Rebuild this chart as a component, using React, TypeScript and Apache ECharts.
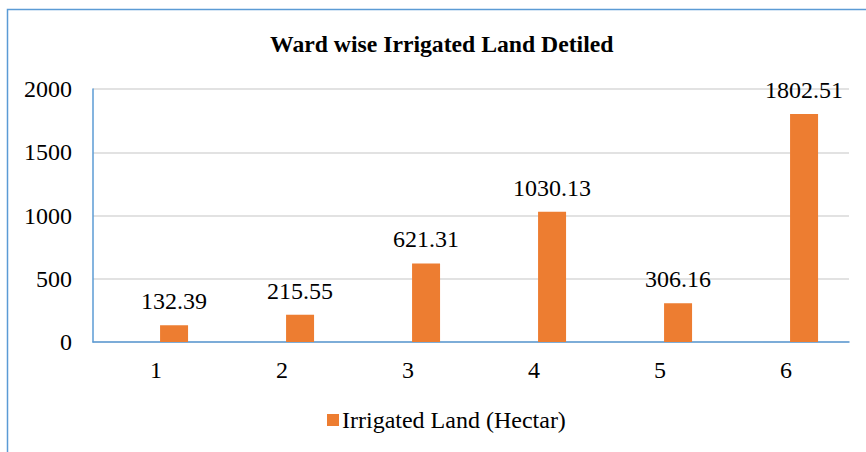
import React, { useEffect, useRef } from "react";
import * as echarts from "echarts";

const categories = ["1", "2", "3", "4", "5", "6"];
const irrigatedLand = [132.39, 215.55, 621.31, 1030.13, 306.16, 1802.51];
const placeholder = [null, null, null, null, null, null];
const yTicks = { min: 0, max: 2000, interval: 500 };

const FONT = "Liberation Serif";

export default function App() {
  const ref = useRef<HTMLDivElement>(null);
  useEffect(() => {
    document.body.style.margin = "0";
    const chart = echarts.init(ref.current!, undefined, { renderer: "svg" });
    chart.setOption({
      animation: false,
      backgroundColor: "#ffffff",
      textStyle: { fontFamily: FONT },
      title: {
        text: "Ward wise Irrigated Land Detiled",
        left: 265,
        top: 27,
        textStyle: { fontFamily: FONT, fontSize: 23.7, fontWeight: "bold", color: "#000" },
      },
      graphic: [
        {
          type: "rect",
          shape: { x: 7.5, y: 9.5, width: 1000, height: 1000 },
          style: { fill: "none", stroke: "#5b9bd5", lineWidth: 1.5 },
          silent: true,
          z: -1,
        },
      ],
      legend: {
        data: ["Irrigated Land (Hectar)"],
        bottom: 15,
        left: 322,
        icon: "rect",
        itemWidth: 12,
        itemHeight: 12,
        itemGap: 4,
        textStyle: { fontFamily: FONT, fontSize: 24, color: "#000", padding: [0, 0, 0, -2] },
      },
      grid: { left: 93, right: 17, top: 89, bottom: 110 },
      xAxis: {
        type: "category",
        data: categories,
        axisLine: { show: true, lineStyle: { color: "#5b9bd5", width: 1.5 } },
        axisTick: { show: false },
        axisLabel: { fontFamily: FONT, fontSize: 24, color: "#000", margin: 16 },
      },
      yAxis: {
        type: "value",
        min: yTicks.min,
        max: yTicks.max,
        interval: yTicks.interval,
        axisLine: { show: true, lineStyle: { color: "#5b9bd5", width: 1.5 } },
        axisTick: { show: false },
        splitLine: { lineStyle: { color: "#d9d9d9", width: 1.5 } },
        axisLabel: {
          fontFamily: FONT,
          fontSize: 24,
          color: "#000",
          margin: 21,
          formatter: (v: number) => String(v),
        },
      },
      series: [
        {
          name: "placeholder",
          type: "bar",
          data: placeholder,
          barWidth: 28,
          barGap: "29%",
          silent: true,
        },
        {
          name: "Irrigated Land (Hectar)",
          type: "bar",
          data: irrigatedLand,
          barWidth: 28,
          barGap: "29%",
          itemStyle: { color: "#ed7d31" },
          label: {
            show: true,
            position: "top",
            distance: 12,
            fontFamily: FONT,
            fontSize: 24,
            color: "#000",
          },
        },
      ],
    });
    return () => chart.dispose();
  }, []);
  return <div ref={ref} style={{ width: 866, height: 452 }} />;
}
